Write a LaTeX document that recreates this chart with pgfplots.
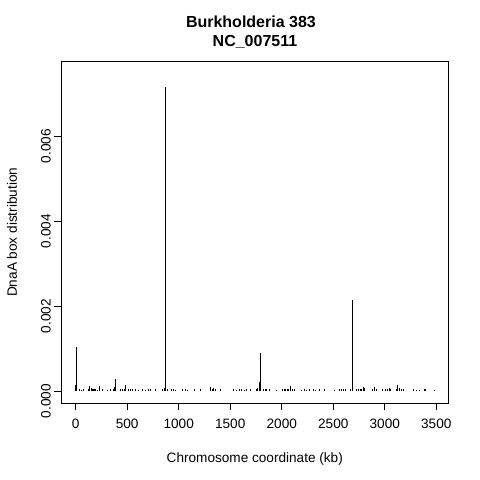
\documentclass[border=0pt]{standalone}
\usepackage{pgfplots}
\pgfplotsset{compat=1.18}
\usepackage{fontspec}
\setmainfont{Liberation Sans}
\begin{document}
\begin{tikzpicture}[x=1pt,y=1pt]
\path[use as bounding box] (0,0) rectangle (480,480);
\begin{axis}[
  at={(61.3pt,76.7pt)}, anchor=south west,
  scale only axis, width=387pt, height=342pt,
  xmin=-139.8, xmax=3616.4,
  ymin=-0.000289, ymax=0.007758,
  axis line style={line width=0.8pt},
  every tick/.style={black, line width=0.8pt},
  tick align=outside, major tick length=7pt,
  xtick={0,500,...,3500},
  ytick={0,0.002,0.004,0.006},
  xtick pos=bottom, ytick pos=left,
  scaled y ticks=false,
  /pgf/number format/assume math mode=true,
  xticklabel style={font=\fontsize{13.6}{16}\selectfont, yshift=-5.5pt, /pgf/number format/1000 sep={}},
  yticklabel style={font=\fontsize{13.6}{16}\selectfont, rotate=90, anchor=south, xshift=-10pt,
     /pgf/number format/.cd, fixed, fixed zerofill, precision=3},
  xlabel={Chromosome coordinate (kb)},
  ylabel={DnaA box distribution},
  xlabel style={font=\fontsize{13.6}{16}\selectfont, at={(axis description cs:0.5,-0.1725)}, anchor=base},
  ylabel style={font=\fontsize{13.6}{16}\selectfont, at={(axis description cs:-0.1145,0.5)}, rotate=0, anchor=base},
  clip=false,
]
\addplot[ycomb, black, line width=0.9pt, mark=none] coordinates {
(0,0.00014) (6,0.00103) (32,0.00004) (55,0.00003) (77,0.00004) (123,0.00005) (136,0.00012) (149,0.00006) (161,0.00005) (171,0.00004) (181,0.00005) (191,0.00004) (210,0.00003) (226,0.00012) (255,0.00004) (304,0.00003) (333,0.00004) (362,0.00004) (372,0.00009) (381,0.00028) (430,0.00004) (456,0.00005) (472,0.00004) (482,0.00014) (511,0.00004) (530,0.00004) (553,0.00005) (582,0.00004) (611,0.00003) (643,0.00004) (673,0.00003) (708,0.00004) (721,0.00005) (773,0.00004) (841,0.00004) (860,0.00006) (870,0.00716) (886,0.00005) (928,0.00004) (948,0.00005) (970,0.00003) (1038,0.00004) (1061,0.00004) (1087,0.00003) (1148,0.00004) (1210,0.00004) (1304,0.00009) (1323,0.00005) (1336,0.00006) (1355,0.00004) (1404,0.00004) (1530,0.00004) (1559,0.00003) (1588,0.00004) (1611,0.00004) (1634,0.00003) (1659,0.00004) (1695,0.00004) (1750,0.00005) (1763,0.00006) (1779,0.00021) (1792,0.000885) (1821,0.00004) (1841,0.00005) (1854,0.00005) (1879,0.00004) (1944,0.00003) (2009,0.00004) (2025,0.00005) (2038,0.00005) (2051,0.00004) (2067,0.00005) (2083,0.00012) (2099,0.00005) (2128,0.00004) (2190,0.00003) (2219,0.00004) (2238,0.00003) (2268,0.00004) (2303,0.00004) (2329,0.00003) (2365,0.00004) (2413,0.00004) (2514,0.00003) (2559,0.00004) (2581,0.00004) (2598,0.00005) (2620,0.00004) (2662,0.00004) (2685,0.00214) (2727,0.00004) (2746,0.00005) (2759,0.00005) (2776,0.00004) (2792,0.00009) (2805,0.00006) (2882,0.00004) (2902,0.00009) (2921,0.00004) (2979,0.00004) (3009,0.00005) (3028,0.00005) (3044,0.00006) (3057,0.00004) (3112,0.00005) (3122,0.00014) (3138,0.00006) (3157,0.00005) (3180,0.00005) (3277,0.00004) (3309,0.00003) (3335,0.00003) (3384,0.00004) (3397,0.00004) (3484,0.00003)
};
\node[anchor=base, font=\fontsize{16}{19}\selectfont\bfseries] at (axis description cs:0.490,1.0982) {Burkholderia 383};
\node[anchor=base, font=\fontsize{16}{19}\selectfont\bfseries] at (axis description cs:0.5005,1.0447) {NC\_007511};
\end{axis}
\end{tikzpicture}
\end{document}
